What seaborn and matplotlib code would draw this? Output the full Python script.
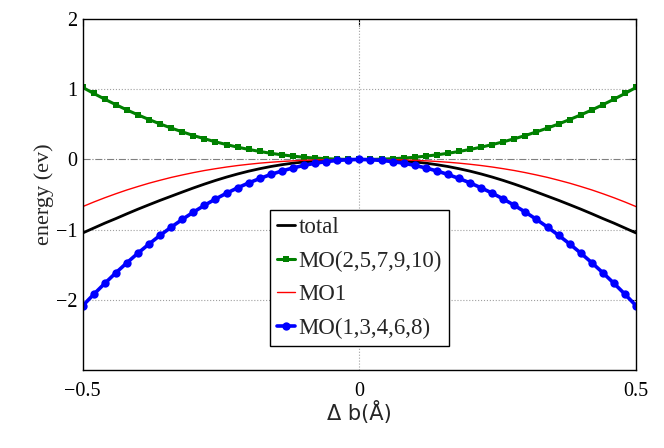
import numpy as np
import pandas as pd
import matplotlib
matplotlib.use('Agg')
import matplotlib.pyplot as plt
import seaborn as sns

# Data
db = [-0.50, -0.48, -0.46, -0.44, -0.42, -0.40, -0.38, -0.36, -0.34, -0.32,
      -0.30, -0.28, -0.26, -0.24, -0.22, -0.20, -0.18, -0.16, -0.14, -0.12,
      -0.10, -0.08, -0.06, -0.04, -0.02, 0.00, 0.02, 0.04, 0.06, 0.08,
      0.10, 0.12, 0.14, 0.16, 0.18, 0.20, 0.22, 0.24, 0.26, 0.28,
      0.30, 0.32, 0.34, 0.36, 0.38, 0.40, 0.42, 0.44, 0.46, 0.48, 0.50]

total = [-1.045, -0.975, -0.905, -0.840, -0.772, -0.706, -0.643, -0.581, -0.522, -0.463,
         -0.405, -0.350, -0.298, -0.250, -0.206, -0.166, -0.131, -0.100, -0.074, -0.052,
         -0.035, -0.022, -0.012, -0.005, -0.001, 0.000, -0.001, -0.005, -0.012, -0.022,
         -0.035, -0.052, -0.074, -0.100, -0.131, -0.166, -0.206, -0.250, -0.298, -0.350,
         -0.405, -0.463, -0.522, -0.581, -0.643, -0.706, -0.772, -0.840, -0.905, -0.975, -1.045]

mo_green = [1.025, 0.939, 0.857, 0.779, 0.704, 0.634, 0.568, 0.505, 0.447, 0.393,
            0.341, 0.295, 0.251, 0.212, 0.175, 0.143, 0.114, 0.088, 0.066, 0.048,
            0.032, 0.020, 0.011, 0.005, 0.001, 0.000, 0.001, 0.005, 0.011, 0.020,
            0.032, 0.048, 0.066, 0.088, 0.114, 0.143, 0.175, 0.212, 0.251, 0.295,
            0.341, 0.393, 0.447, 0.505, 0.568, 0.634, 0.704, 0.779, 0.857, 0.939, 1.025]

mo1 = [-0.670, -0.605, -0.544, -0.487, -0.433, -0.384, -0.337, -0.295, -0.255, -0.220,
       -0.187, -0.157, -0.131, -0.107, -0.086, -0.068, -0.052, -0.039, -0.028, -0.019,
       -0.012, -0.007, -0.003, -0.001, 0.000, 0.000, 0.000, -0.001, -0.003, -0.007,
       -0.012, -0.019, -0.028, -0.039, -0.052, -0.068, -0.086, -0.107, -0.131, -0.157,
       -0.187, -0.220, -0.255, -0.295, -0.337, -0.384, -0.433, -0.487, -0.544, -0.605, -0.670]

mo_blue = [-2.080, -1.917, -1.761, -1.611, -1.468, -1.331, -1.201, -1.078, -0.962, -0.852,
           -0.749, -0.652, -0.562, -0.479, -0.403, -0.333, -0.270, -0.213, -0.163, -0.120,
           -0.083, -0.053, -0.030, -0.013, -0.003, 0.000, -0.003, -0.013, -0.030, -0.053,
           -0.083, -0.120, -0.163, -0.213, -0.270, -0.333, -0.403, -0.479, -0.562, -0.652,
           -0.749, -0.852, -0.962, -1.078, -1.201, -1.331, -1.468, -1.611, -1.761, -1.917, -2.080]

labels = ['total', 'MO(2,5,7,9,10)', 'MO1', 'MO(1,3,4,6,8)']
x_ticks = [-0.5, 0, 0.5]
y_ticks = [-2, -1, 0, 1, 2]

sns.set_style('white')
plt.rcParams['font.family'] = ['Liberation Serif', 'DejaVu Serif']

fig, ax = plt.subplots(figsize=(6.64, 4.48), dpi=100)
fig.subplots_adjust(left=0.1245, right=0.958, top=0.958, bottom=0.173)

# reference lines
ax.axhline(0, color='#808080', lw=0.8, ls='-.', zorder=1)
for yv in [-2, -1, 1]:
    ax.axhline(yv, color='#a0a0a0', lw=0.8, ls=':', zorder=1)
ax.axvline(0, color='#a0a0a0', lw=0.8, ls=':', zorder=1)

sns.lineplot(x=db, y=total, color='black', lw=2, label=labels[0], ax=ax)
sns.lineplot(x=db, y=mo_green, color='#008000', lw=2.2, marker='s', markersize=5,
             markeredgewidth=0, label=labels[1], ax=ax)
sns.lineplot(x=db, y=mo1, color='red', lw=1, label=labels[2], ax=ax)
sns.lineplot(x=db, y=mo_blue, color='blue', lw=2.6, marker='o', markersize=6,
             markeredgewidth=0, label=labels[3], ax=ax)

ax.set_xlim(-0.5, 0.5)
ax.set_ylim(-3, 2)
ax.set_xticks(x_ticks)
ax.set_xticklabels(['\u22120.5', '0', '0.5'])
ax.set_yticks(y_ticks)
ax.set_yticklabels(['\u22122', '\u22121', '0', '1', '2'])
ax.tick_params(direction='in', length=5, width=0.8, labelsize=14.5,
               top=True, right=True, colors='black')
ax.tick_params(axis='x', pad=8)
ax.tick_params(axis='y', pad=4)

for sp in ax.spines.values():
    sp.set_color('black')
    sp.set_linewidth(1)

ax.set_ylabel('energy (ev)', fontsize=16, labelpad=1)
ax.set_xlabel('\u0394 b(\u00c5)', fontsize=15, family='DejaVu Sans', labelpad=0)

leg = ax.legend(loc='lower center', bbox_to_anchor=(0.5, 0.07), fontsize=16.5,
                frameon=True, fancybox=False, edgecolor='black', framealpha=1,
                handlelength=0.8, handletextpad=0.15, labelspacing=0.55,
                borderpad=0.3, borderaxespad=0)
leg.get_frame().set_linewidth(1)

fig.savefig('out.png', dpi=100)
